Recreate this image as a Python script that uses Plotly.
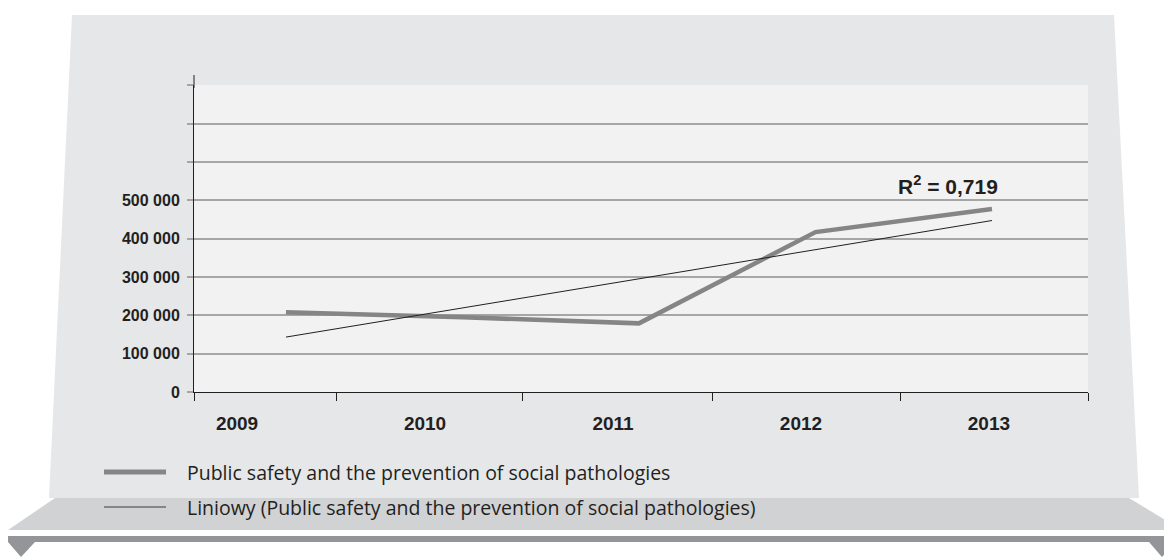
import numpy as np
import plotly.graph_objects as go

# ---------------- data ----------------
years = [2009, 2010, 2011, 2012, 2013]
year_labels = ["2009", "2010", "2011", "2012", "2013"]
values = [208000, 195000, 179000, 417000, 477000]
y_ticks = [0, 100000, 200000, 300000, 400000, 500000, 600000, 700000, 800000]
y_tick_labels = ["0", "100 000", "200 000", "300 000", "400 000", "500 000", "", "", ""]
category_bounds = [2008.771, 2009.527, 2010.52, 2011.53, 2012.53, 2013.527]
series_name = "Public safety and the prevention of social pathologies"
trend_name = "Liniowy (Public safety and the prevention of social pathologies)"
r2_text = "R<sup>2</sup> = 0,719"

# linear trend (least squares)
coef = np.polyfit(years, values, 1)
trend = list(np.polyval(coef, years))

# ---------------- layout helpers (pixel -> paper) ----------------
W, H = 1164, 557
PL, PR, PT, PB = 194, 1088, 85, 392


def px(x):
    return (x - PL) / (PR - PL)


def py(y):
    return (PB - y) / (PB - PT)


def poly(points):
    return "M " + " L ".join(f"{px(a):.5f},{py(b):.5f}" for a, b in points) + " Z"


shapes = [
    # board panel (trapezoid)
    dict(type="path", xref="paper", yref="paper", layer="below",
         path=poly([(72, 15), (1114, 15), (1139, 498), (49, 498)]),
         fillcolor="#e6e7e8", line=dict(width=0)),
    # shelf
    dict(type="path", xref="paper", yref="paper", layer="below",
         path=poly([(55, 498), (1129, 498), (1182, 530), (8, 530)]),
         fillcolor="#d1d2d4", line=dict(width=0)),
    # dark band
    dict(type="path", xref="paper", yref="paper", layer="below",
         path=poly([(8, 536), (1180, 536), (1180, 542), (8, 542)]),
         fillcolor="#939598", line=dict(width=0)),
    dict(type="path", xref="paper", yref="paper", layer="below",
         path=poly([(8, 542), (35, 542), (21, 557)]),
         fillcolor="#939598", line=dict(width=0)),
    dict(type="path", xref="paper", yref="paper", layer="below",
         path=poly([(1149, 542), (1176, 542), (1162, 557)]),
         fillcolor="#939598", line=dict(width=0)),
    # plot area background
    dict(type="rect", xref="paper", yref="paper", layer="below",
         x0=0, x1=1, y0=0, y1=1, fillcolor="#f2f2f2", line=dict(width=0)),
    # y-axis extension above the plot area
    dict(type="line", xref="paper", yref="paper",
         x0=0, x1=0, y0=0.99, y1=py(75), line=dict(color="#231f20", width=1)),
    # legend samples
    dict(type="line", xref="paper", yref="paper",
         x0=px(104), x1=px(166), y0=py(472), y1=py(472),
         line=dict(color="#868686", width=5)),
    dict(type="line", xref="paper", yref="paper",
         x0=px(104), x1=px(166), y0=py(507), y1=py(507),
         line=dict(color="#868686", width=2)),
]

annotations = [
    dict(xref="paper", yref="paper", x=px(185), y=py(472), text=series_name,
         showarrow=False, xanchor="left", yanchor="middle",
         font=dict(family="Open Sans", size=19.5, color="#231f20")),
    dict(xref="paper", yref="paper", x=px(185), y=py(507), text=trend_name,
         showarrow=False, xanchor="left", yanchor="middle",
         font=dict(family="Open Sans", size=19.5, color="#231f20")),
    dict(xref="x2", yref="y", x=2012.75, y=540000, text=r2_text,
         showarrow=False, xanchor="center", yanchor="middle",
         font=dict(family="Liberation Sans, Arial", size=21, color="#231f20", weight="bold")),
]

fig = go.Figure()
# empty traces only to register the category-label axis and the tick axis
fig.add_trace(go.Scatter(x=[], y=[], xaxis="x", yaxis="y", showlegend=False, hoverinfo="skip"))
fig.add_trace(go.Scatter(x=[], y=[], xaxis="x3", yaxis="y", showlegend=False, hoverinfo="skip"))
fig.add_trace(go.Scatter(x=years, y=values, mode="lines", xaxis="x2", yaxis="y",
                         name=series_name, line=dict(color="#858585", width=4.5)))
fig.add_trace(go.Scatter(x=years, y=trend, mode="lines", xaxis="x2", yaxis="y",
                         name=trend_name, line=dict(color="#231f20", width=1)))

lab_range = [category_bounds[0], category_bounds[-1]]
fig.update_layout(
    width=W, height=H,
    margin=dict(l=PL, r=W - PR, t=PT, b=H - PB, pad=0),
    paper_bgcolor="white", plot_bgcolor="rgba(0,0,0,0)",
    showlegend=False,
    shapes=shapes, annotations=annotations,
    xaxis=dict(range=lab_range, tickmode="array", tickvals=years, ticktext=year_labels,
               ticks="", showgrid=False, zeroline=False, anchor="y",
               showline=True, linecolor="#231f20", linewidth=1,
               ticklabelstandoff=14,
               tickfont=dict(family="Liberation Sans, Arial", size=19, color="#231f20", weight="bold")),
    xaxis2=dict(range=[2008.479, 2013.544], overlaying="x", anchor="y", visible=False),
    xaxis3=dict(range=lab_range, overlaying="x", anchor="y", tickmode="array",
                tickvals=category_bounds, showticklabels=False, ticks="outside", ticklen=8,
                tickcolor="#231f20", tickwidth=1, showgrid=False, zeroline=False, showline=False),
    yaxis=dict(range=[0, 800600], tickmode="array", tickvals=y_ticks, ticktext=y_tick_labels,
               ticks="outside", ticklen=6, tickcolor="#a6a6a6", tickwidth=1.5,
               showgrid=True, gridcolor="#a6a6a6", gridwidth=1.5, zeroline=False,
               showline=True, linecolor="#231f20", linewidth=1,
               ticklabelstandoff=4,
               tickfont=dict(family="Liberation Sans, Arial", size=16, color="#231f20", weight="bold")),
)

fig.write_html("out.html", config={"displayModeBar": False},
               post_script="document.body.style.margin='0';")
